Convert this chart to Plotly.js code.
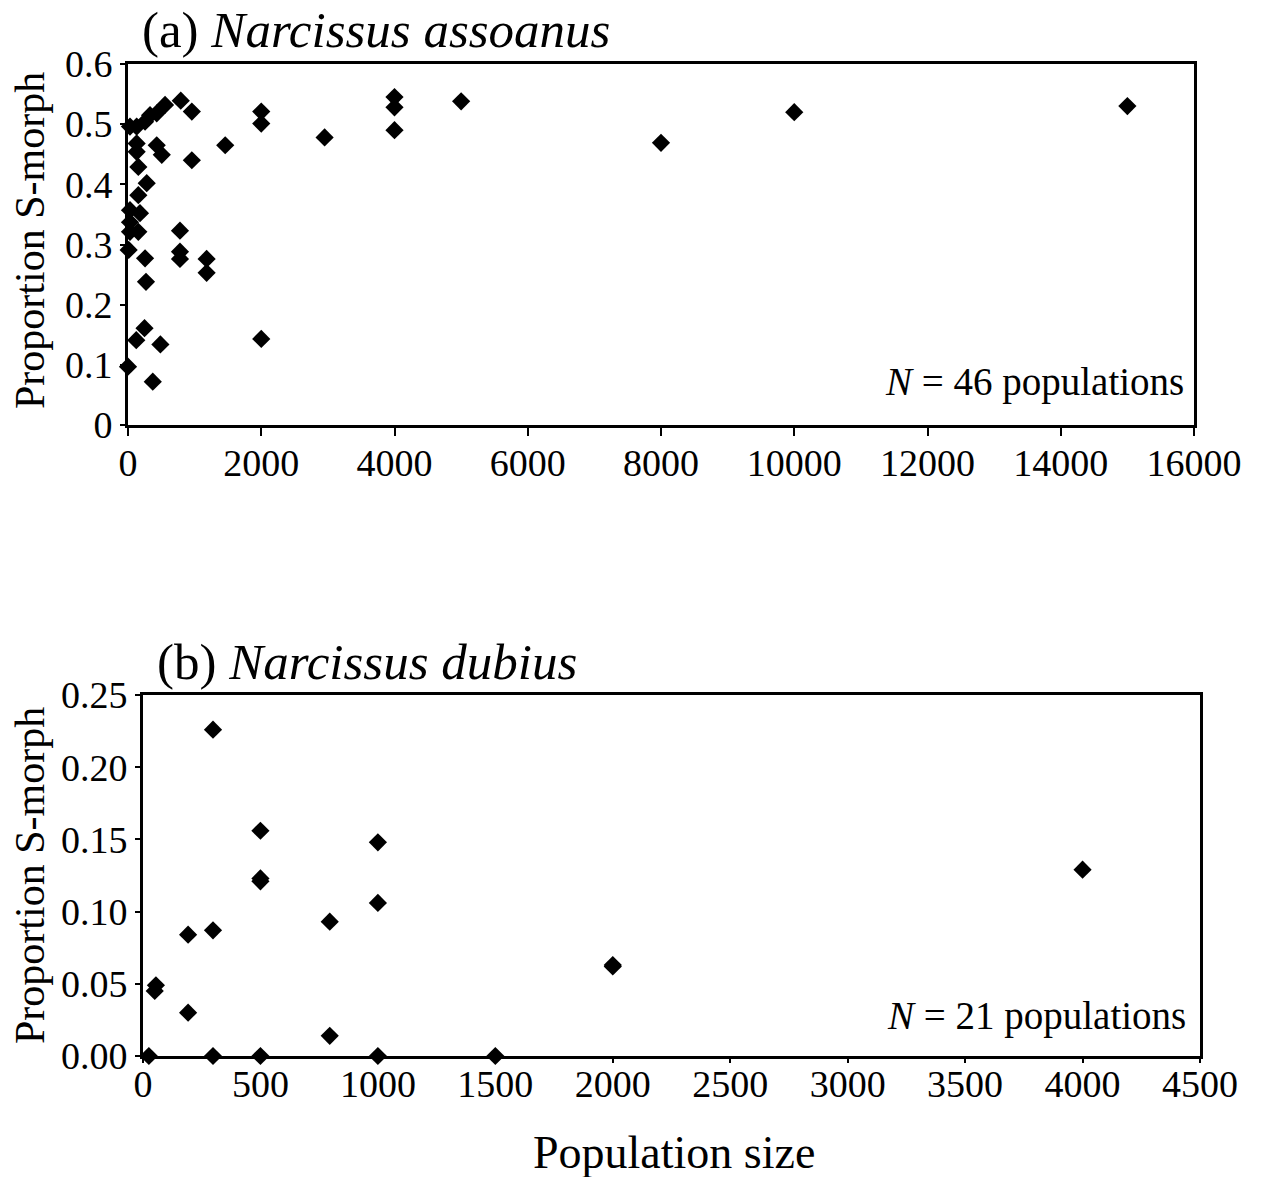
<!DOCTYPE html>
<html>
<head>
<meta charset="utf-8">
<script src="https://cdn.plot.ly/plotly-3.0.1.min.js"></script>
<style>html,body{margin:0;padding:0;background:#fff;}</style>
</head>
<body>
<div id="chart" style="width:1266px;height:1177px;"></div>
<script>
// Panel (a) Narcissus assoanus: population size vs proportion S-morph
const sizeA = [0, 372, 124, 248, 486, 2000,
  270, 10, 256,
  780, 780, 780,
  1180, 1180,
  30, 155,
  30, 30, 180, 155, 281,
  155, 130, 130, 30,
  130, 256, 331, 431, 556, 792, 958,
  431, 507, 958, 1459,
  2951, 2000, 2000,
  4000, 4000, 4000, 5000, 8000, 10000, 15000];
const propA = [0.097, 0.072, 0.141, 0.161, 0.134, 0.143,
  0.238, 0.291, 0.277,
  0.323, 0.288, 0.276,
  0.276, 0.253,
  0.321, 0.321,
  0.337, 0.357, 0.352, 0.382, 0.402,
  0.429, 0.454, 0.468, 0.496,
  0.496, 0.504, 0.515, 0.518, 0.532, 0.539, 0.521,
  0.465, 0.449, 0.440, 0.465,
  0.478, 0.501, 0.521,
  0.545, 0.528, 0.490, 0.538, 0.469, 0.520, 0.530];

// Panel (b) Narcissus dubius
const sizeB = [25, 298, 192, 298, 55, 50, 192, 298, 500, 500, 500, 500, 795, 795, 1000, 1000, 1000, 1500, 2000, 2000, 4000];
const propB = [0, 0.226, 0.084, 0.087, 0.049, 0.045, 0.030, 0, 0.156, 0.123, 0.121, 0, 0.093, 0.014, 0.148, 0.106, 0, 0, 0.063, 0.062, 0.129];

const ticksAx = [0, 2000, 4000, 6000, 8000, 10000, 12000, 14000, 16000];
const ticksAy = [0, 0.1, 0.2, 0.3, 0.4, 0.5, 0.6];
const ticksBx = [0, 500, 1000, 1500, 2000, 2500, 3000, 3500, 4000, 4500];
const ticksBy = [0, 0.05, 0.10, 0.15, 0.20, 0.25];

const W = 1266, H = 1177;
const px = x => x / W;
const py = y => 1 - y / H;
const FONT = 'Liberation Serif, Times New Roman, serif';

const marker = {symbol: 'diamond', size: 14, color: '#000', line: {width: 0}};
const traces = [
  {x: sizeA, y: propA, type: 'scatter', mode: 'markers', marker: marker, xaxis: 'x', yaxis: 'y', cliponaxis: false, showlegend: false},
  {x: sizeB, y: propB, type: 'scatter', mode: 'markers', marker: marker, xaxis: 'x2', yaxis: 'y2', cliponaxis: false, showlegend: false}
];

const domAx = [px(128), px(1194)], domAy = [py(425), py(64)];
const domBx = [px(143), px(1200)], domBy = [py(1056), py(695)];

function axisBase(extra) {
  return Object.assign({
    showline: true, linecolor: '#000', linewidth: 3, mirror: true,
    showgrid: false, zeroline: false,
    ticks: 'outside', tickcolor: '#000', tickwidth: 2,
    tickfont: {family: FONT, size: 38, color: '#000'},
    fixedrange: true
  }, extra);
}
function overlayTicks(extra) {
  return Object.assign({
    showline: false, showgrid: false, zeroline: false, showticklabels: false,
    ticks: 'inside', tickcolor: '#000', tickwidth: 2, fixedrange: true
  }, extra);
}

const layout = {
  width: W, height: H,
  margin: {l: 0, r: 0, t: 0, b: 0},
  paper_bgcolor: '#fff', plot_bgcolor: '#fff',
  font: {family: FONT, color: '#000'},
  xaxis: axisBase({domain: domAx, range: [0, 16000], tickvals: ticksAx, ticktext: ticksAx.map(String), ticklen: 8, ticklabelstandoff: -6, anchor: 'y'}),
  yaxis: axisBase({domain: domAy, range: [0, 0.6], tickvals: ticksAy, ticktext: ticksAy.map(v => v === 0 ? '0' : v.toFixed(1)), ticklen: 5, anchor: 'x'}),
  xaxis2: axisBase({domain: domBx, range: [0, 4500], tickvals: ticksBx, ticktext: ticksBx.map(String), ticklen: 4, ticklabelstandoff: -12, anchor: 'y2'}),
  yaxis2: axisBase({domain: domBy, range: [0, 0.25], tickvals: ticksBy, ticktext: ticksBy.map(v => v.toFixed(2)), ticklen: 5, anchor: 'x2'}),
  xaxis3: overlayTicks({domain: domAx, range: [0, 16000], tickvals: ticksAx, ticklen: 8, anchor: 'y3', overlaying: 'x'}),
  yaxis3: overlayTicks({domain: domAy, range: [0, 0.6], tickvals: ticksAy, ticklen: 5, anchor: 'x3', overlaying: 'y'}),
  xaxis4: overlayTicks({domain: domBx, range: [0, 4500], tickvals: ticksBx, ticklen: 10, anchor: 'y4', overlaying: 'x2'}),
  yaxis4: overlayTicks({domain: domBy, range: [0, 0.25], tickvals: ticksBy, ticklen: 5, anchor: 'x4', overlaying: 'y2'}),
  annotations: [
    {text: '(a) <i>Narcissus assoanus</i>', xref: 'paper', yref: 'paper', x: px(140), y: py(30), xanchor: 'left', yanchor: 'middle', showarrow: false, font: {family: FONT, size: 51, color: '#000'}},
    {text: '(b) <i>Narcissus dubius</i>', xref: 'paper', yref: 'paper', x: px(155), y: py(662), xanchor: 'left', yanchor: 'middle', showarrow: false, font: {family: FONT, size: 51, color: '#000'}},
    {text: 'Proportion S-morph', xref: 'paper', yref: 'paper', x: px(30), y: py(241), xanchor: 'center', yanchor: 'middle', textangle: -90, showarrow: false, font: {family: FONT, size: 42, color: '#000'}},
    {text: 'Proportion S-morph', xref: 'paper', yref: 'paper', x: px(30), y: py(876), xanchor: 'center', yanchor: 'middle', textangle: -90, showarrow: false, font: {family: FONT, size: 42, color: '#000'}},
    {text: '<i>N</i> = 46 populations', xref: 'paper', yref: 'paper', x: px(1186), y: py(382), xanchor: 'right', yanchor: 'middle', showarrow: false, font: {family: FONT, size: 39, color: '#000'}},
    {text: '<i>N</i> = 21 populations', xref: 'paper', yref: 'paper', x: px(1188), y: py(1016), xanchor: 'right', yanchor: 'middle', showarrow: false, font: {family: FONT, size: 39, color: '#000'}},
    {text: 'Population size', xref: 'paper', yref: 'paper', x: px(674), y: py(1152), xanchor: 'center', yanchor: 'middle', showarrow: false, font: {family: FONT, size: 46, color: '#000'}}
  ]
};

Plotly.newPlot('chart', traces, layout, {staticPlot: true, displayModeBar: false});
</script>
</body>
</html>
